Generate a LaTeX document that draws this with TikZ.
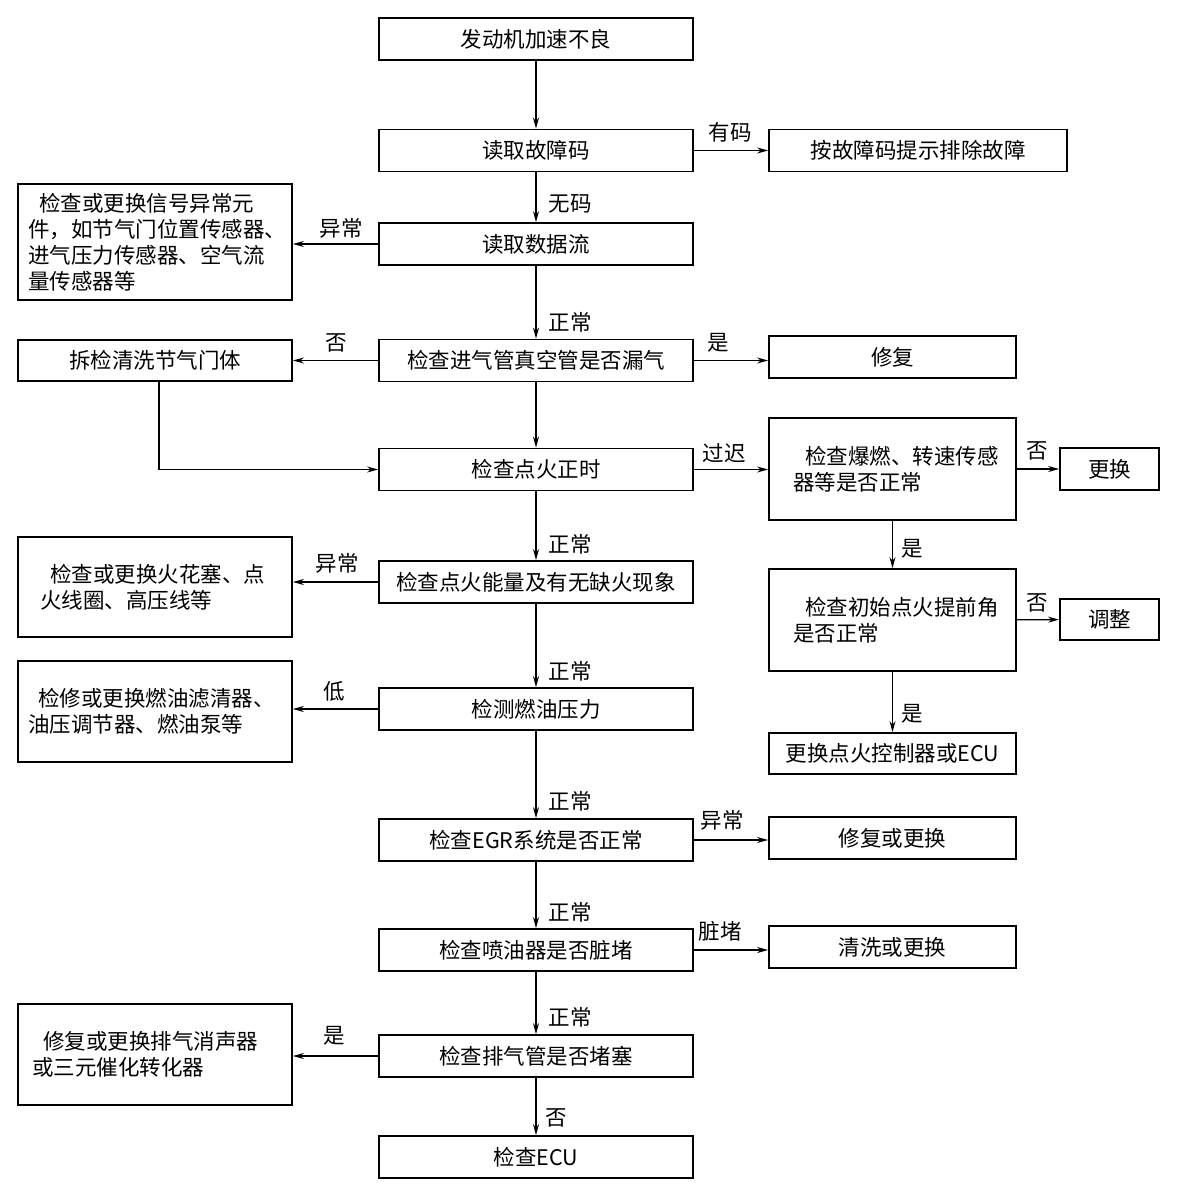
\documentclass[tikz,border=0pt]{standalone}
\usepackage{fontspec}
\setmainfont{Noto Sans CJK SC}
\usetikzlibrary{arrows.meta}
\begin{document}
\begin{tikzpicture}[x=1pt,y=-1pt,
  every node/.style={font=\fontsize{21.5}{26}\selectfont},
  box/.style={draw=black,line width=1.8pt,inner sep=0pt,align=center},
  mbox/.style={box,minimum width=314pt,minimum height=42pt},
  lbox/.style={box,minimum width=274pt,align=left},
  rbox/.style={box,minimum width=247pt,minimum height=42pt},
  rtbox/.style={box,minimum width=247pt,minimum height=102pt,text width=199pt,align=left},
  fbox/.style={box,minimum width=99pt,minimum height=42pt},
  lab/.style={inner sep=0pt},
  arr/.style={line width=1.3pt,-{Stealth[length=11pt,width=6pt]}}]
\useasboundingbox[fill=white] (0,0) rectangle (1179,1194);
% main column
\node[mbox] (B1) at (536,39) {发动机加速不良};
\node[mbox] (B2) at (536,150.5) {读取故障码};
\node[mbox] (B3) at (536,244) {读取数据流};
\node[mbox] (B4) at (536,360.5) {检查进气管真空管是否漏气};
\node[mbox] (B5) at (536,469.5) {检查点火正时};
\node[mbox] (B6) at (536,582) {检查点火能量及有无缺火现象};
\node[mbox] (B7) at (536,709) {检测燃油压力};
\node[mbox] (B8) at (536,840) {检查EGR系统是否正常};
\node[mbox] (B9) at (536,950) {检查喷油器是否脏堵};
\node[mbox] (B10) at (536,1056) {检查排气管是否堵塞};
\node[mbox] (B11) at (536,1157) {检查ECU};
% left column
\node[lbox,minimum height=116pt,text width=254pt] (L3) at (155,242) {\hspace*{11pt}检查或更换信号异常元\\件，如节气门位置传感器、\\进气压力传感器、空气流\\量传感器等};
\node[box,minimum width=274pt,minimum height=41pt] (L4) at (155,360.5) {拆检清洗节气门体};
\node[lbox,minimum height=100pt,text width=230pt] (L6) at (155,587) {\hspace*{10pt}检查或更换火花塞、点\\火线圈、高压线等};
\node[lbox,minimum height=101pt,text width=254pt] (L7) at (155,711.5) {\hspace*{10pt}检修或更换燃油滤清器、\\油压调节器、燃油泵等};
\node[lbox,minimum height=101pt,text width=246pt] (L10) at (155,1054.5) {\hspace*{11pt}修复或更换排气消声器\\或三元催化转化器};
% right column
\node[box,minimum width=298pt,minimum height=42pt] (B2r) at (918,150.5) {按故障码提示排除故障};
\node[rbox] (R4) at (892.5,357) {修复};
\node[rtbox] (R5) at (892.5,469) {\hspace*{12pt}检查爆燃、转速传感\\器等是否正常};
\node[rtbox] (R6) at (892.5,620) {\hspace*{12pt}检查初始点火提前角\\是否正常};
\node[rbox,minimum height=41pt] (R7) at (892.5,753.5) {更换点火控制器或ECU};
\node[rbox] (R8) at (892.5,838) {修复或更换};
\node[rbox] (R9) at (892.5,947) {清洗或更换};
\node[fbox] (R5r) at (1109.5,469) {更换};
\node[fbox,minimum height=41pt] (R6r) at (1109.5,619.5) {调整};
\coordinate (L4d) at ([xshift=4pt]L4.south);
% vertical connectors
\draw[arr] (B1) -- (B2);
\draw[arr] (B2) -- (B3);
\draw[arr] (B3) -- (B4);
\draw[arr] (B4) -- (B5);
\draw[arr] (B5) -- (B6);
\draw[arr] (B6) -- (B7);
\draw[arr] (B7) -- (B8);
\draw[arr] (B8) -- (B9);
\draw[arr] (B9) -- (B10);
\draw[arr] (B10) -- (B11);
\draw[arr] (R5) -- (R6);
\draw[arr] (R6) -- (R7);
% horizontal connectors
\draw[arr] (B2) -- (B2r);
\draw[arr] (B3.west) -- (B3.west -| L3.east);
\draw[arr] (B4) -- (L4);
\draw[arr] (B4.east) -- (B4.east -| R4.west);
\draw[arr] (L4d) |- (B5.west);
\draw[arr] (B5.east) -- (B5.east -| R5.west);
\draw[arr] (R5) -- (R5r);
\draw[arr] (R6) -- (R6r);
\draw[arr] (B6.west) -- (B6.west -| L6.east);
\draw[arr] (B7.west) -- (B7.west -| L7.east);
\draw[arr] (B8.east) -- (B8.east -| R8.west);
\draw[arr] (B9.east) -- (B9.east -| R9.west);
\draw[arr] (B10.west) -- (B10.west -| L10.east);
% labels
\node[lab] (t1) at (730,132) {有码};
\node[lab] (t2) at (570,204) {无码};
\node[lab] (t3) at (341,228) {异常};
\node[lab] (t4) at (570,322) {正常};
\node[lab] (t5) at (336,343) {否};
\node[lab] (t6) at (718,343) {是};
\node[lab] (t7) at (724,453) {过迟};
\node[lab] (t8) at (1037,451) {否};
\node[lab] (t9) at (912,549) {是};
\node[lab] (t10) at (1037,603) {否};
\node[lab] (t11) at (912,714) {是};
\node[lab] (t12) at (570,544) {正常};
\node[lab] (t13) at (337,563) {异常};
\node[lab] (t14) at (570,671) {正常};
\node[lab] (t15) at (334,691) {低};
\node[lab] (t16) at (570,801) {正常};
\node[lab] (t17) at (722,820) {异常};
\node[lab] (t18) at (570,912) {正常};
\node[lab] (t19) at (720,931) {脏堵};
\node[lab] (t20) at (570,1017) {正常};
\node[lab] (t21) at (334,1036) {是};
\node[lab] (t22) at (556,1118) {否};
\end{tikzpicture}
\end{document}
